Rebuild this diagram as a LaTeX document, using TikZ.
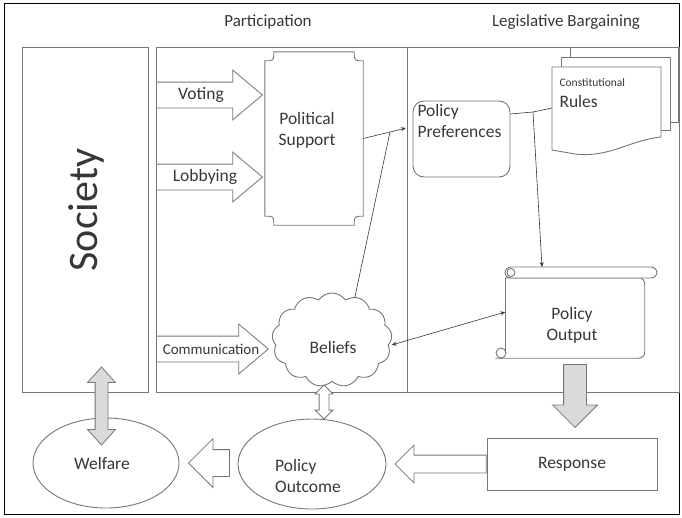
\documentclass[tikz,border=0pt]{standalone}
\usepackage{fontspec}
\setmainfont{Carlito}
\usetikzlibrary{shapes.arrows,shapes.symbols,shapes.geometric,arrows.meta}

\definecolor{edge}{RGB}{118,118,118}
\definecolor{ink}{RGB}{55,55,55}
\definecolor{shade}{RGB}{218,218,218}

\tikzset{
  box/.style={draw=edge, line width=0.9pt},
  lbl/.style={text=ink, font=\fontsize{17.5}{21}\selectfont, align=center},
  blockarrow/.style={single arrow, draw=edge, line width=0.8pt, fill=white},
  textarrow/.style={blockarrow, inner ysep=12.5pt, inner xsep=0pt,
    single arrow head extend=12pt, single arrow tip angle=80, anchor=tail},
  link/.style={draw=ink, line width=0.6pt, -{Stealth[length=5pt,width=4pt]}},
}

\begin{document}
\begin{tikzpicture}[x=1pt,y=-1pt]
\useasboundingbox (0,0) rectangle (682,517);
\draw[line width=0.9pt] (4,3) rectangle (679,514);

% headings
\node[lbl, font=\fontsize{17}{20}\selectfont] (parttitle) at (268,22) {Participation};
\node[lbl, font=\fontsize{17}{20}\selectfont] (legtitle) at (566,22) {Legislative Bargaining};

% the three columns
\node[box, minimum width=126, minimum height=345] (society) at (85,219.5) {};
\node[lbl, rotate=90, font=\fontsize{42}{42}\selectfont] (societytext) at (86,210) {Society};
\node[box, minimum width=251, minimum height=345] (partbox) at (281.5,219.5) {};
\node[box, minimum width=272, minimum height=345] (legbox) at (543,219.5) {};

% participation
\node[textarrow, minimum height=106] (voting) at (156,95) {};
\node[lbl] (votingtext) at (201,95) {Voting};
\node[textarrow, minimum height=106] (lobbying) at (156,177) {};
\node[lbl] (lobbyingtext) at (205,177) {Lobbying};
\node[textarrow, minimum height=112] (communication) at (156,349) {};
\node[lbl, font=\fontsize{15}{18}\selectfont] (communicationtext) at (211,349) {Communication};

\node[lbl, minimum width=98, minimum height=173] (support) at (314,138.5) {};
\node[lbl] (supporttext) at (307,130) {Political\\Support};
\draw[box] ([xshift=9pt]support.north west)
  -- ([xshift=-9pt]support.north east)
  .. controls ([xshift=-9pt,yshift=-9pt]support.north east) .. ([yshift=-9pt]support.north east)
  -- ([yshift=9pt]support.south east)
  .. controls ([xshift=-9pt,yshift=9pt]support.south east) .. ([xshift=-9pt]support.south east)
  -- ([xshift=9pt]support.south west)
  .. controls ([xshift=9pt,yshift=9pt]support.south west) .. ([yshift=9pt]support.south west)
  -- ([yshift=-9pt]support.north west)
  .. controls ([xshift=9pt,yshift=-9pt]support.north west) .. cycle;

\node[cloud, cloud puffs=13, cloud puff arc=110, draw=edge, line width=0.9pt, fill=white,
  minimum width=120, minimum height=94] (beliefs) at (332,340) {};
\node[lbl] (beliefstext) at (333,347) {Beliefs};

% legislative bargaining
\node[box, rounded corners=11pt, minimum width=97, minimum height=76] (prefs) at (461.5,139) {};
\node[lbl, align=left, anchor=north west] (prefstext) at (414,101) {Policy\\Preferences};

\draw[box, fill=white] (570,47) rectangle (678,122);
\draw[box, fill=white] (561,57) rectangle (670,130);
\draw[box, fill=white] (552,67) -- (661,67) -- (661,137)
  .. controls (630,140) and (610,158) .. (575,154) -- (552,150) -- cycle;
\node[lbl, align=left, anchor=north west] (rulestext) at (556,75)
  {{\fontsize{11.5}{13}\selectfont Constitutional}\\Rules};

\node[minimum width=139, minimum height=80] (output) at (575,318) {};
\node[lbl] (outputtext) at (572,325) {Policy\\Output};
\draw[box, rounded corners=6pt] (output.north west) -- (output.north east)
  -- (output.south east) -- ([xshift=-10pt]output.south west);
\draw[box] (output.north west) -- ([yshift=5pt]output.south west);
\draw[box, fill=white, rounded corners=6pt] (505,267) rectangle (657,278);
\draw[box] (511,272.5) circle (4);
\draw[box] (501,353) circle (5);

% connectors
\coordinate (merge) at (390,132);
\coordinate (prefsin) at (406,128);
\coordinate (split) at (533,112);
\coordinate (outtop) at (542,267);
\draw[draw=ink, line width=0.6pt] (support.east) -- (merge);
\draw[draw=ink, line width=0.6pt] (beliefs.62) -- (merge);
\draw[link] (merge) -- (prefsin);
\draw[draw=ink, line width=0.6pt] ([yshift=25pt]prefs.east) -- (split) -- (552,108);
\draw[link] (split) -- (outtop);
\draw[link, {Stealth[length=5pt,width=4pt]}-{Stealth[length=5pt,width=4pt]}]
  ([yshift=-5pt]beliefs.east) -- ([yshift=6pt]output.west);

% bottom row
\node[blockarrow, fill=shade, shape border rotate=270, minimum height=63,
  inner sep=11pt, single arrow head extend=11pt, anchor=tip] (outarrow) at (575,428) {};
\node[box, lbl, minimum width=170, minimum height=52] (response) at (572,464) {Response};
\node[draw=edge, line width=0.9pt, ellipse, minimum width=148, minimum height=90] (outcome) at (312,464) {};
\node[lbl, align=left] (outcometext) at (308,476) {Policy\\Outcome};
\node[draw=edge, line width=0.9pt, ellipse, minimum width=146, minimum height=90] (welfare) at (106,463) {};
\node[lbl] (welfaretext) at (102,463) {Welfare};

\node[blockarrow, shape border rotate=180, minimum height=91, inner sep=8.5pt,
  single arrow head extend=10pt, anchor=tail] (respond) at (response.west) {};
\node[blockarrow, shape border rotate=180, minimum height=41, inner sep=13pt,
  single arrow head extend=11pt, anchor=tip] (feedback) at (188,463) {};
\node[double arrow, draw=edge, line width=0.8pt, fill=white, shape border rotate=90,
  minimum height=34, inner sep=4.5pt, double arrow head extend=4pt] (beliefsoutcome) at (324,402) {};
\node[double arrow, draw=edge, line width=0.8pt, fill=shade, shape border rotate=90,
  minimum height=78, inner sep=6pt, double arrow head extend=7.5pt,
  double arrow tip angle=84] (societywelfare) at (101.5,406) {};
\end{tikzpicture}
\end{document}
